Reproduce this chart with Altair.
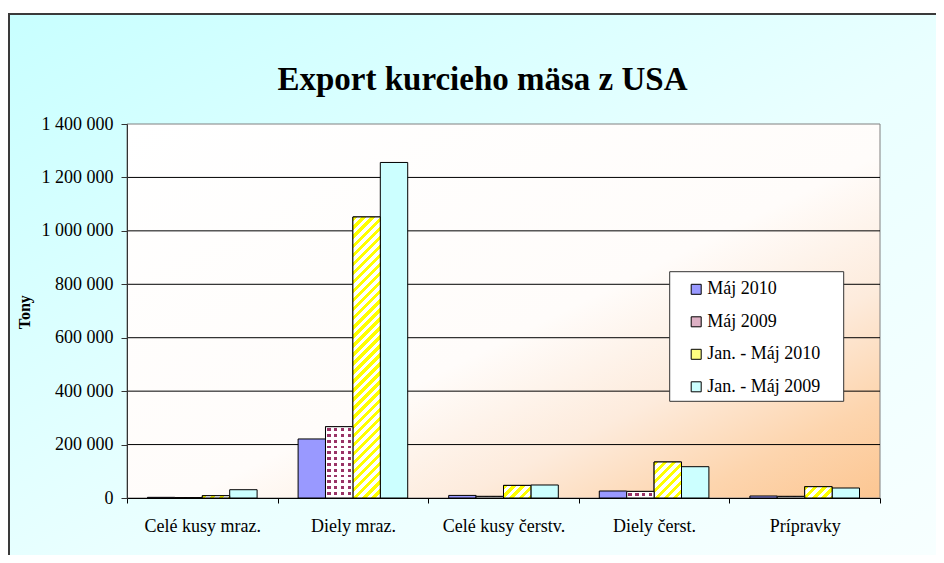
import math
import altair as alt
import pandas as pd

# ---------------- data ----------------
categories = ["Celé kusy mraz.", "Diely mraz.", "Celé kusy čerstv.", "Diely čerst.", "Prípravky"]
series = ["Máj 2010", "Máj 2009", "Jan. - Máj 2010", "Jan. - Máj 2009"]
maj_2010 = [2500, 221000, 9700, 26200, 7500]
maj_2009 = [1500, 267000, 6000, 24700, 6000]
jan_maj_2010 = [8600, 1052000, 47200, 134800, 42300]
jan_maj_2009 = [31000, 1256000, 48700, 117200, 37400]
y_ticks = [0, 200000, 400000, 600000, 800000, 1000000, 1200000, 1400000]
title_text = "Export kurcieho mäsa z USA"
y_title = "Tony"
# colours as they appear in the legend swatches (patterns shown blended)
legend_colors = ["#9999FF", "#DDB0C4", "#FFFF80", "#CCFFFF"]
MAROON = "#993366"
YELLOW = "#FFFF00"

values_by_series = [maj_2010, maj_2009, jan_maj_2010, jan_maj_2009]
rows = []
for s, vals in zip(series, values_by_series):
    for c, v in zip(categories, vals):
        rows.append({"category": c, "series": s, "value": v})
df = pd.DataFrame(rows)

# ---------------- geometry / style ----------------
W, H = 753, 374
YMAX = 1400000
OUTER_PAD = 0.748
step = W / len(categories)
bar_w = step / (len(series) + 2 * OUTER_PAD)

WHITE = "#FFFFFF"
CLEAR = "rgba(255,255,255,0)"
FONT = "Liberation Serif"


def periodic_stops(n, pattern):
    stops = []
    k = 0
    while k / n < 1:
        for a, b, col in pattern:
            s = (k + a) / n
            e = (k + b) / n
            if s >= 1:
                break
            stops.append({"offset": round(s, 5), "color": col})
            stops.append({"offset": round(min(e, 1.0), 5), "color": col})
        k += 1
    return stops


def diag_stripes(h, w=bar_w, period=6.4):
    a = (w + h) * w / (w * w + h * h)
    b = (w + h) * h / (w * w + h * h)
    n = (w + h) / (period * math.sqrt(2))
    return {"gradient": "linear", "x1": 0, "y1": 0, "x2": a, "y2": b,
            "stops": periodic_stops(n, [(0, 0.5, YELLOW), (0.5, 1, WHITE)])}


dot_pattern = [(0, 0.26, WHITE), (0.26, 0.74, CLEAR), (0.74, 1, WHITE)]


def dot_columns(w=bar_w, period=6.85):
    return {"gradient": "linear", "x1": 0, "y1": 0, "x2": 1, "y2": 0,
            "stops": periodic_stops(w / period, dot_pattern)}


def dot_rows(h, period=5.8):
    return {"gradient": "linear", "x1": 0.5, "y1": 0, "x2": 0.5, "y2": 1,
            "stops": periodic_stops(max(h, 0.5) / period, dot_pattern)}


outer_grad = {"gradient": "linear", "x1": 0, "y1": 0, "x2": 1, "y2": 1,
              "stops": [{"offset": 0, "color": "#C8FFFF"},
                        {"offset": 0.5, "color": "#EAFFFF"},
                        {"offset": 1, "color": "#FAFFFF"}]}
plot_grad = {"gradient": "linear", "x1": 0, "y1": 0, "x2": 1, "y2": 1,
             "stops": [{"offset": 0, "color": "#FFFFFF"},
                       {"offset": 0.54, "color": "#FFFCFA"},
                       {"offset": 0.72, "color": "#FDEBDC"},
                       {"offset": 0.87, "color": "#FDD5AE"},
                       {"offset": 1, "color": "#FCC692"}]}

# ---------------- encodings ----------------
x_axis = alt.Axis(title=None, tickBand="extent", tickSize=5, tickColor="black",
                  domainColor="black", labelFont=FONT, labelFontSize=18,
                  labelColor="black", labelPadding=14, labelAngle=0, zindex=1,
                  grid=False)
y_axis = alt.Axis(title=y_title, values=y_ticks, grid=False, tickSize=6,
                  tickColor="#333333", domainColor="#333333", labelFont=FONT,
                  labelFontSize=18, labelColor="black", labelPadding=8,
                  labelExpr="replace(format(datum.value, ','), regexp(',', 'g'), ' ')",
                  titleFont=FONT, titleFontSize=16, titleFontWeight="bold",
                  titleColor="black", titleX=-102.8, titleY=187.7,
                  titleAlign="center", titleBaseline="middle", titleAngle=270,
                  zindex=1)

x_enc = alt.X("category:N", scale=alt.Scale(domain=categories, paddingInner=0, paddingOuter=0), axis=x_axis)
xo_enc = alt.XOffset("series:N", scale=alt.Scale(domain=series, paddingInner=0, paddingOuter=OUTER_PAD))
y_scale = alt.Scale(domain=[0, YMAX], nice=False, zero=True)
y_enc = alt.Y("value:Q", stack=None, scale=y_scale, axis=y_axis)

one = pd.DataFrame({"a": [0]})

bg_outer = alt.Chart(one).mark_rect(fill=outer_grad, stroke="#3A3A3A", strokeWidth=2).encode(
    x=alt.value(-118), x2=alt.value(W + 130), y=alt.value(-110), y2=alt.value(H + 120))
bg_plot = alt.Chart(one).mark_rect(fill=plot_grad, stroke="#808080", strokeWidth=1).encode(
    x=alt.value(0), x2=alt.value(W), y=alt.value(0), y2=alt.value(H))

grid = alt.Chart(pd.DataFrame({"t": y_ticks})).transform_filter(
    f"datum.t > 0 && datum.t < {YMAX}").mark_rule(color="black", strokeWidth=1).encode(
    y=alt.Y("t:Q", scale=y_scale, axis=y_axis))

legend = alt.Legend(
    title=None, orient="none", legendX=560.2, legendY=156.3, padding=0,
    symbolType="square", symbolSize=100, symbolStrokeColor="black", symbolStrokeWidth=1,
    symbolOpacity=1,
    labelFont=FONT, labelFontSize=18, labelColor="black", labelOffset=2, rowPadding=14.5,
    labelLimit=300,
    labelExpr="datum.label == 'Máj 2010' ? '\u00a0' + datum.label : datum.label",
)

base = alt.Chart(df).mark_bar(stroke="black", strokeWidth=1).encode(
    x=x_enc, xOffset=xo_enc, y=y_enc,
    color=alt.Color("series:N", scale=alt.Scale(domain=series, range=legend_colors), legend=legend))


def only(s, c=None):
    ch = alt.Chart(df).transform_filter(alt.FieldEqualPredicate(field="series", equal=s))
    if c is not None:
        ch = ch.transform_filter(alt.FieldEqualPredicate(field="category", equal=c))
    return ch


overlays = []
# wide upward diagonal stripes (yellow / white)
for c, v in zip(categories, jan_maj_2010):
    overlays.append(only("Jan. - Máj 2010", c).mark_bar(
        fill=diag_stripes(v / YMAX * H), stroke="black", strokeWidth=1).encode(
        x=x_enc, xOffset=xo_enc, y=y_enc))

# maroon dots on white
overlays.append(only("Máj 2009").mark_bar(fill=MAROON, strokeWidth=0).encode(
    x=x_enc, xOffset=xo_enc, y=y_enc))
overlays.append(only("Máj 2009").mark_bar(fill=dot_columns(), strokeWidth=0).encode(
    x=x_enc, xOffset=xo_enc, y=y_enc))
for c, v in zip(categories, maj_2009):
    overlays.append(only("Máj 2009", c).mark_bar(
        fill=dot_rows(v / YMAX * H), stroke="black", strokeWidth=1).encode(
        x=x_enc, xOffset=xo_enc, y=y_enc))

legend_box = alt.Chart(one).mark_rect(fill="white", stroke="#333333", strokeWidth=1).encode(
    x=alt.value(542.7), x2=alt.value(716.7), y=alt.value(147.7), y2=alt.value(277.3))

title = alt.Chart(pd.DataFrame({"t": [title_text]})).mark_text(
    font=FONT, fontSize=33, fontWeight="bold", color="black", align="center",
    baseline="alphabetic").encode(text="t:N", x=alt.value(355.5), y=alt.value(-34))

chart = alt.layer(bg_outer, bg_plot, grid, base, *overlays, legend_box, title).properties(
    width=W, height=H,
    padding={"left": 119, "top": 116, "right": 56, "bottom": 57},
    autosize=alt.AutoSizeParams(type="none"),
).configure(font=FONT).configure_view(stroke=None).configure_legend(
    labelFont=FONT, labelFontSize=18, labelColor="black"
).configure_text(font=FONT)

chart.save("out.html", embed_options={"renderer": "svg", "actions": False})
